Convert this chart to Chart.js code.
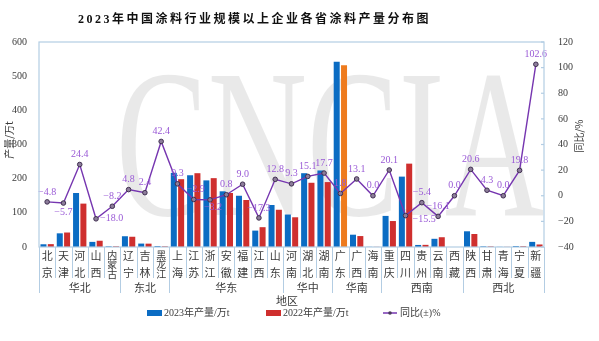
<!DOCTYPE html>
<html>
<head>
<meta charset="utf-8">
<script src="https://cdn.jsdelivr.net/npm/chart.js@4"></script>
<style>
  body { margin: 0; background: #fff; }
  #wrap { position: relative; width: 599px; height: 341px; }
  #title {
    position: absolute; left: 2px; width: 505px; top: 9px; text-align: center;
    font: bold 12px "Liberation Serif", "Noto Sans CJK SC"; letter-spacing: 2.5px; color: #111;
  }
  canvas { position: absolute; left: 0; top: 0; }
</style>
</head>
<body>
<div id="wrap">
  <canvas id="chart" width="599" height="341"></canvas>
  <div id="title">2023年中国涂料行业规模以上企业各省涂料产量分布图</div>
</div>
<script>
// provinces, region groups and values
const provinces = ['北京','天津','河北','山西','内蒙古','辽宁','吉林','黑龙江','上海','江苏','浙江','安徽','福建','江西','山东',
  '河南','湖北','湖南','广东','广西','海南','重庆','四川','贵州','云南','西藏','陕西','甘肃','青海','宁夏','新疆'];
const regions = ['华北','东北','华东','华中','华南','西南','西北'];
const regionSizes = [5, 3, 7, 3, 3, 5, 5];
const output2023 = [8.0, 40, 158, 15, 2, 31.5, 10, 3, 217, 210, 195, 163, 150, 48, 123,
  95, 216, 224, 542, 36, 0.5, 91, 206, 6, 24, 0, 46, 2, 0.5, 3, 15];
const output2022 = [8.4, 42.4, 127, 18.3, 2.2, 30, 9.8, 2.1, 198.5, 216, 201.5, 158, 137.6, 58, 109,
  87, 188, 190, 532, 32, 0.5, 76, 244, 6.3, 28.6, 0, 38, 1.9, 0.5, 2.5, 7.4];
const growth = [-4.8, -5.7, 24.4, -18.0, -8.2, 4.8, 2.4, 42.4, 9.3, -2.9, -3.2, 0.8, 9.0, -17.3, 12.8,
  9.3, 15.1, 17.7, 1.8, 13.1, 0.0, 20.1, -15.5, -5.4, -16.1, 0.0, 20.6, 4.3, 0.0, 19.8, 102.6];
const leftTicks = [0, 600, 100];
const rightTicks = [-40, 120, 20];

const BLUE = '#0b6cc3', RED = '#cf2f2e', ORANGE = '#ee7b1e', PURPLE = '#7636b0', LABEL = '#9a5ad6';
const FRAME = '#b3cde3', TXT = '#3a3a3a';
const serif = '"Liberation Serif"', cjk = '"Noto Sans CJK SC"';

// label offsets that differ from "centered above the point"
const labelShift = { 1: [0, 19], 3: [4, 10], 9: [2, 0], 10: [3, 18], 22: [7, 14] };

const fmt = v => (v < 0 ? '\u2212' : '') + Math.abs(v).toFixed(1);

const decor = {
  id: 'decor',
  beforeDatasetsDraw(chart) {
    const { ctx } = chart;
    ctx.save();
    ctx.font = '211px ' + serif;
    const w = ctx.measureText('CNCIA').width;
    ctx.translate(116, 215);
    ctx.scale(428 / w, 1);
    ctx.fillStyle = 'rgba(0,0,0,0.085)';
    ctx.textBaseline = 'alphabetic';
    ctx.fillText('CNCIA', 0, 0);
    ctx.restore();
  },
  afterDatasetsDraw(chart) {
    const { ctx } = chart;
    const pts = chart.getDatasetMeta(0).data;
    ctx.save();
    ctx.font = '10px ' + serif;
    ctx.fillStyle = LABEL;
    ctx.textBaseline = 'middle';
    pts.forEach((p, i) => {
      const s = labelShift[i] || [0, 0];
      ctx.textAlign = (i === 3 || i === 22) ? 'left' : 'center';
      ctx.fillText(fmt(growth[i]), p.x + s[0], p.y - 10 + s[1]);
    });
    ctx.restore();
  },
  afterDraw(chart) {
    const { ctx, chartArea: a } = chart;
    const x = chart.scales.x;
    const cw = (a.right - a.left) / provinces.length;
    ctx.save();
    // frame
    ctx.strokeStyle = FRAME; ctx.lineWidth = 1.2;
    ctx.strokeRect(a.left, a.top, a.right - a.left, a.bottom - a.top);
    // inner ticks on right axis
    const y2 = chart.scales.y2;
    for (let v = rightTicks[0]; v <= rightTicks[1]; v += rightTicks[2]) {
      const py = y2.getPixelForValue(v);
      ctx.beginPath(); ctx.moveTo(a.right - 3, py); ctx.lineTo(a.right, py); ctx.stroke();
    }
    // category separators
    const groupEdges = [0];
    regionSizes.forEach(n => groupEdges.push(groupEdges[groupEdges.length - 1] + n));
    ctx.lineWidth = 1;
    for (let i = 0; i <= provinces.length; i++) {
      const px = Math.round(a.left + i * cw) + 0.5;
      const long = groupEdges.includes(i);
      ctx.beginPath(); ctx.moveTo(px, a.bottom); ctx.lineTo(px, a.bottom + (long ? 46 : 31)); ctx.stroke();
    }
    // province names, stacked vertically
    ctx.fillStyle = TXT; ctx.textAlign = 'center'; ctx.textBaseline = 'middle';
    provinces.forEach((name, i) => {
      const px = x.getPixelForValue(i);
      const chars = [...name];
      if (chars.length === 2) {
        ctx.font = '11px ' + cjk;
        ctx.fillText(chars[0], px, a.bottom + 9);
        ctx.fillText(chars[1], px, a.bottom + 26);
      } else {
        ctx.font = '10px ' + cjk;
        chars.forEach((c, k) => ctx.fillText(c, px, a.bottom + 8 + k * 9.5));
      }
    });
    // region names
    ctx.font = '11px ' + cjk;
    regions.forEach((r, g) => {
      const px = a.left + (groupEdges[g] + groupEdges[g + 1]) / 2 * cw;
      ctx.fillText(r, px, a.bottom + 41);
    });
    // axis title
    ctx.fillText('地区', 287, a.bottom + 54);
    // y titles
    ctx.font = '10px ' + cjk;
    ctx.save(); ctx.translate(9, 140); ctx.rotate(-Math.PI / 2);
    ctx.fillText('产量/万t', 0, 0); ctx.restore();
    ctx.save(); ctx.translate(579, 136); ctx.rotate(-Math.PI / 2);
    ctx.fillText('同比/%', 0, 0); ctx.restore();
    // legend
    const ly = a.bottom + 66;
    ctx.font = '10px ' + serif + ', ' + cjk;
    ctx.textAlign = 'left';
    ctx.fillStyle = BLUE; ctx.fillRect(147, ly - 3, 15, 6);
    ctx.fillStyle = TXT; ctx.fillText('2023年产量/万t', 164, ly);
    ctx.fillStyle = RED; ctx.fillRect(266, ly - 3, 15, 6);
    ctx.fillStyle = TXT; ctx.fillText('2022年产量/万t', 283, ly);
    ctx.strokeStyle = PURPLE; ctx.lineWidth = 1.5;
    ctx.beginPath(); ctx.moveTo(383, ly); ctx.lineTo(397, ly); ctx.stroke();
    ctx.fillStyle = '#4a3a5a'; ctx.beginPath(); ctx.arc(390, ly, 1.8, 0, Math.PI * 2); ctx.fill();
    ctx.fillStyle = TXT; ctx.fillText('同比(±)%', 400, ly);
    ctx.restore();
  }
};

new Chart(document.getElementById('chart'), {
  type: 'bar',
  data: {
    labels: provinces,
    datasets: [
      { type: 'line', label: '同比(±)%', data: growth, yAxisID: 'y2', order: 0,
        borderColor: PURPLE, borderWidth: 1.4, pointRadius: 2.3,
        pointBackgroundColor: '#8d7d9b', pointBorderColor: '#3e2e4e', pointBorderWidth: 1, tension: 0 },
      { label: '2023年产量/万t', data: output2023, yAxisID: 'y', order: 1,
        backgroundColor: BLUE, categoryPercentage: 0.9, barPercentage: 0.82 },
      { label: '2022年产量/万t', data: output2022, yAxisID: 'y', order: 2,
        backgroundColor: output2022.map((v, i) => provinces[i] === '广东' ? ORANGE : RED),
        categoryPercentage: 0.9, barPercentage: 0.82 }
    ]
  },
  options: {
    responsive: false,
    animation: false,
    layout: { padding: { top: 42, left: 0, right: 0, bottom: 0 } },
    plugins: { legend: { display: false }, tooltip: { enabled: false }, title: { display: false } },
    scales: {
      x: {
        grid: { display: false }, border: { display: false }, ticks: { display: false },
        afterFit(s) { s.height = 94; }
      },
      y: {
        position: 'left', min: leftTicks[0], max: leftTicks[1],
        grid: { display: false }, border: { display: false },
        ticks: { stepSize: leftTicks[2], padding: 4, color: TXT, font: { family: 'Liberation Serif', size: 10 } },
        afterFit(s) { s.width = 39; }
      },
      y2: {
        position: 'right', min: rightTicks[0], max: rightTicks[1],
        grid: { display: false }, border: { display: false },
        ticks: { stepSize: rightTicks[2], padding: 6, color: TXT, font: { family: 'Liberation Serif', size: 10 },
          callback: v => (v < 0 ? '\u2212' : '') + Math.abs(v) },
        afterFit(s) { s.width = 55; }
      }
    }
  },
  plugins: [decor]
});
</script>
</body>
</html>
